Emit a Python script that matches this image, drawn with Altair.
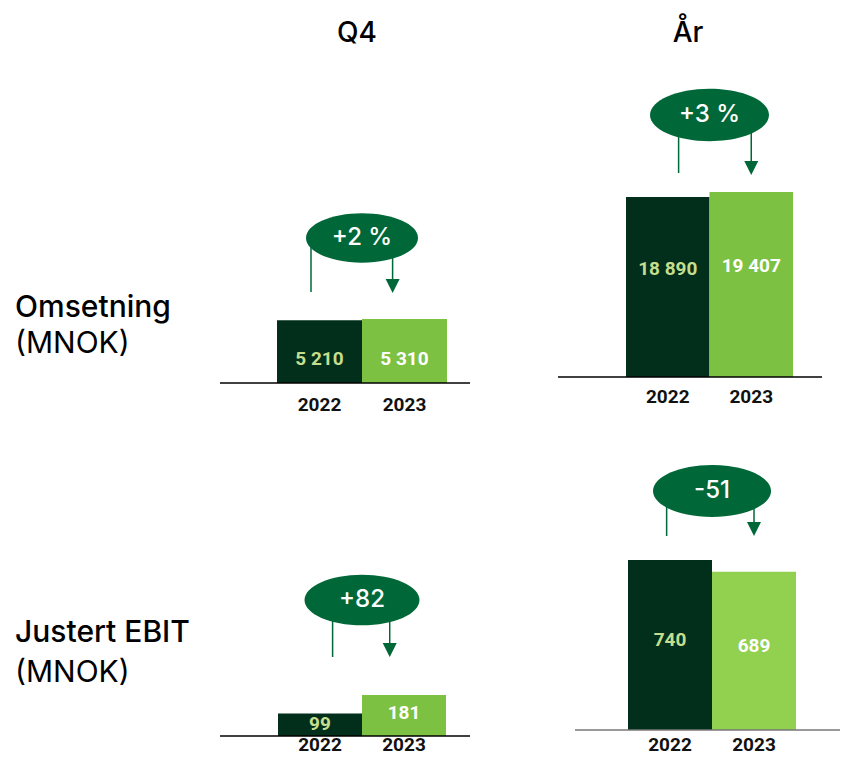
import altair as alt
import pandas as pd

# ---------------- data ----------------
years = ["2022", "2023"]
col_titles = ["Q4", "År"]
row_titles = ["Omsetning", "Justert EBIT"]
row_units = ["(MNOK)", "(MNOK)"]
omsetning_q4 = [5210, 5310]
omsetning_ar = [18890, 19407]
ebit_q4 = [99, 181]
ebit_ar = [740, 689]
change_labels = ["+2 %", "+3 %", "+82", "-51"]

series = [omsetning_q4, omsetning_ar, ebit_q4, ebit_ar]

# ---------------- layout / style (chart pixel coords) ----------------
DARK = "#012f1b"
GREEN = "#006838"
DARK_TXT = "#c5de8e"
NUMFONT = "Roboto"
TXTFONT = "Inter"

layouts = [
    dict(xr=[269, 439], base=375, top=311, ax=[212, 462], axc="#000000", cy=230, ew=112,
         lx=0.40, rx=1.36, lend=284, tip=285, ylab=403, c23="#7dc142", lf=0.38),
    dict(xr=[618, 785], base=369, top=184, ax=[550, 814], axc="#000000", cy=107, ew=119,
         lx=0.63, rx=1.50, lend=165, tip=167, ylab=395, c23="#7dc142", lf=0.60),
    dict(xr=[270, 438], base=728, top=687, ax=[212, 462], axc="#000000", cy=592, ew=115,
         lx=0.65, rx=1.33, lend=649, tip=649, ylab=743, c23="#7dc142", lf=0.55),
    dict(xr=[620, 788], base=722, top=552, ax=[567, 832], axc="#777777", cy=483, ew=118,
         lx=0.46, rx=1.50, lend=528, tip=528, ylab=743, c23="#92d050", lf=0.53),
]

ELLIPSE = "M -1 0 A 1 0.44 0 1 1 1 0 A 1 0.44 0 1 1 -1 0 Z"
TRI = "M -1 -1 L 1 -1 L 0 1 Z"


def panel(i):
    L = layouts[i]
    vals = series[i]
    df = pd.DataFrame({
        "year": years,
        "value": vals,
        "x0": [0, 1],
        "x1": [1, 2],
        "xc": [0.5, 1.5],
        "label": [f"{v:,}".replace(",", " ") for v in vals],
    })
    one = pd.DataFrame({"change": [change_labels[i]]})
    xs = alt.Scale(domain=[0, 2], range=L["xr"], nice=False, zero=False)
    ys = alt.Scale(domain=[0, max(vals)], range=[L["base"], L["top"]], nice=False)
    bar_color = alt.condition(alt.datum.year == "2022", alt.value(DARK), alt.value(L["c23"]))
    txt_color = alt.condition(alt.datum.year == "2022", alt.value(DARK_TXT), alt.value("white"))

    base = alt.Chart(df)
    bars = base.mark_bar().encode(
        x=alt.X("x0:Q", scale=xs, axis=None),
        x2="x1:Q",
        y=alt.Y("value:Q", scale=ys, axis=None),
        y2=alt.Y2Datum(0),
        color=bar_color,
    )
    vlab = base.transform_calculate(mid=f"datum.value * {L['lf']}").mark_text(
        font=NUMFONT, fontWeight="bold", fontSize=19, baseline="middle"
    ).encode(
        x=alt.X("xc:Q", scale=xs, axis=None),
        y=alt.Y("mid:Q", scale=ys, axis=None),
        text="label:N",
        color=txt_color,
    )
    ylab = base.mark_text(
        font=NUMFONT, fontWeight="bold", fontSize=19, color="#111111", baseline="alphabetic"
    ).encode(
        x=alt.X("xc:Q", scale=xs, axis=None),
        y=alt.value(L["ylab"]),
        text="year:N",
    )
    ann = alt.Chart(one)
    baseline = ann.mark_rule(color=L["axc"], strokeWidth=1.3).encode(
        x=alt.value(L["ax"][0]), x2=alt.value(L["ax"][1]),
        y=alt.YDatum(0, type="quantitative", scale=ys, axis=None),
    )
    lline = ann.mark_rule(color=GREEN, strokeWidth=1.5).encode(
        x=alt.XDatum(L["lx"], type="quantitative", scale=xs, axis=None),
        y=alt.value(L["cy"]), y2=alt.value(L["lend"]),
    )
    rline = ann.mark_rule(color=GREEN, strokeWidth=1.5).encode(
        x=alt.XDatum(L["rx"], type="quantitative", scale=xs, axis=None),
        y=alt.value(L["cy"]), y2=alt.value(L["tip"] - 12),
    )
    head = ann.mark_point(shape=TRI, filled=True, size=196, color=GREEN, opacity=1, strokeWidth=0).encode(
        x=alt.XDatum(L["rx"], type="quantitative", scale=xs, axis=None),
        y=alt.value(L["tip"] - 7),
    )
    ell = ann.mark_point(shape=ELLIPSE, filled=True, size=L["ew"] ** 2, color=GREEN, opacity=1, strokeWidth=0).encode(
        x=alt.XDatum(1, type="quantitative", scale=xs, axis=None),
        y=alt.value(L["cy"]),
    )
    etxt = ann.mark_text(font=TXTFONT, fontWeight=500, fontSize=24, color="white", baseline="middle").encode(
        x=alt.XDatum(1, type="quantitative", scale=xs, axis=None),
        y=alt.value(L["cy"]),
        text="change:N",
    )
    return alt.layer(bars, baseline, vlab, ylab, lline, rline, head, ell, etxt)


def label(s, x, y, size, weight, align="left"):
    return alt.Chart(pd.DataFrame({"t": [s]})).mark_text(
        font=TXTFONT, fontSize=size, fontWeight=weight, align=align,
        baseline="alphabetic", color="#000000",
    ).encode(text="t:N", x=alt.value(x), y=alt.value(y))


texts = [
    label(col_titles[0], 349, 34, 28, 500, "center"),
    label(col_titles[1], 680, 34, 28, 500, "center"),
    label(row_titles[0], 7, 309, 30, 500),
    label(row_units[0], 7, 345, 30, 400),
    label(row_titles[1], 7, 634, 30, 500),
    label(row_units[1], 7, 674, 30, 400),
]

chart = alt.layer(*[panel(i) for i in range(4)], *texts).resolve_scale(
    x="independent", y="independent"
).properties(
    width=833, height=747, padding=0, autosize="none"
).configure_view(stroke=None)

chart.save("out.html", embed_options={"renderer": "svg", "actions": False})
